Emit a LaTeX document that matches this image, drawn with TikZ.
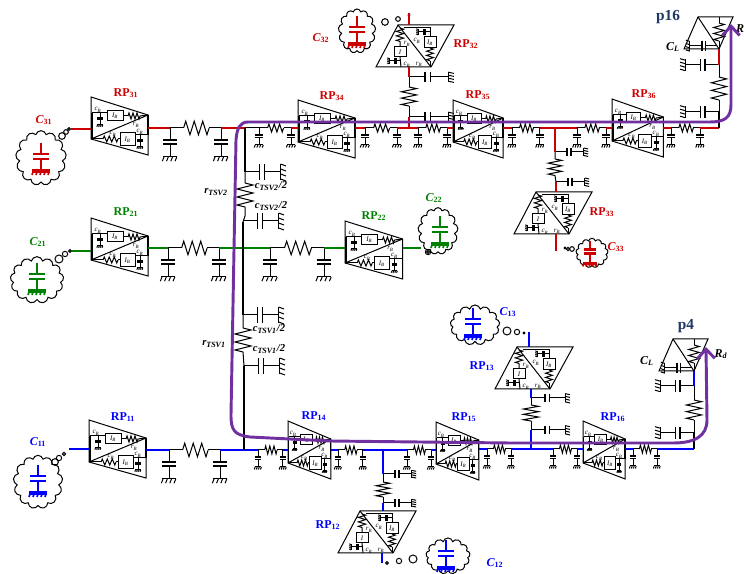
\documentclass[tikz,border=0pt]{standalone}
\usepackage{fontspec}
\setmainfont{Liberation Serif}
\usetikzlibrary{arrows.meta,shapes.symbols}
\definecolor{rpred}{HTML}{CC0000}
\definecolor{rpgreen}{HTML}{008000}
\definecolor{rpblue}{HTML}{0000FF}
\definecolor{rpnavy}{HTML}{1F3864}
\definecolor{rppurple}{HTML}{7030A0}
\newcommand{\sbs}[2]{\textit{#1}\textsubscript{\textit{#2}}}
\newcommand{\sbu}[2]{#1\textsubscript{\upshape #2}}
\tikzset{
	rw/.style={draw=rpred,line width=1.8pt},
	gw/.style={draw=rpgreen,line width=1.8pt},
	bw/.style={draw=rpblue,line width=1.8pt},
	kw/.style={line width=1.8pt},
	smalltxt/.style={font=\itshape\fontsize{5.2}{5.5}\selectfont,inner sep=0pt},
	rplab/.style={font=\bfseries\fontsize{9}{10}\selectfont,inner sep=0pt},
	loadlab/.style={font=\bfseries\itshape\fontsize{9}{10}\selectfont,inner sep=0pt},
	tsvlab/.style={font=\bfseries\itshape\fontsize{8}{9}\selectfont,inner sep=0pt},
	outlab/.style={font=\bfseries\fontsize{11.5}{12}\selectfont,text=rpnavy,inner sep=0pt},
	cloudn/.style={cloud,cloud puffs=13,draw=black,inner sep=0pt,cloud ignores aspect},
	bubble/.style={circle,draw=black,inner sep=0pt,minimum size=#1},
	pathw/.style={draw=rppurple,line width=2.2pt,{Straight Barb[length=7pt,width=13pt]}-{Straight Barb[length=7pt,width=13pt]}},
	pics/resh/.style={code={
		\coordinate (-a) at (0,0);
		\coordinate (-b) at (15,0);
		\draw (-a) -- (1.25,-4) -- (3.75,4) -- (6.25,-4) -- (8.75,4) -- (11.25,-4) -- (13.75,4) -- (-b);
	}},
	pics/shcap/.style={code={
		\coordinate (-t) at (0,0);
		\draw (-t) -- (0,7) (0,9.4) -- (0,17) (-4,17) -- (4,17);
		\draw[line width=1pt] (-4,7) -- (4,7) (-4,9.4) -- (4,9.4);
		\draw (-3.5,17) -- (-4.5,19.5) (-1,17) -- (-2,19.5) (1.5,17) -- (.5,19.5) (4,17) -- (3,19.5);
	}},
	pics/pisec/.style={code={
		\coordinate (-a) at (0,0);
		\coordinate (-b) at (30,0);
		\pic[transform shape] (-ca) at (-a) {shcap};
		\pic[transform shape] (-cb) at (-b) {shcap};
		\pic[transform shape] (-r) at (8,0) {resh};
		\draw (-a) -- (-r-a) (-r-b) -- (-b);
	}},
	pics/loadcap/.style={code={
		\draw[line width=2pt] (0,-14) -- (0,-3) (-8,-3) -- (8,-3) (-8,2) -- (8,2) (0,2) -- (0,13);
		\draw[line width=2.4pt] (-9,14) -- (9,14);
		\draw[line width=1.3pt] (-8,15) -- (-9,18) (-4,15) -- (-5,18) (0,15) -- (-1,18) (4,15) -- (3,18) (8,15) -- (7,18);
	}},
	pics/rph/.style={code={
		\coordinate (-in) at (0,29);
		\coordinate (-out) at (57,29);
		\draw (0,0) -- (57,18) -- (57,58) -- (0,42) -- cycle;
		\draw (0,42) -- (57,18);
		\draw[line width=1.1pt] (1,16) -- (1,42) (57,18) -- (57,38);
		\draw (1,16) -- (16,16) (32,19) -- (37,19);
		\draw (16,14) rectangle (32,24);
		\pic[transform shape,scale=.7] (-c1) at (9,16) {shcap};
		\pic[transform shape,xscale=.8,yscale=.75] (-r1) at (37,19) {resh};
		\draw (49,19) -- (57,18);
		\draw (1,42) -- (12,42) (27,42) -- (29,42) (44,38) -- (57,38);
		\pic[transform shape,yscale=.75] (-r2) at (12,42) {resh};
		\draw (29,36) rectangle (44,49);
		\pic[transform shape,scale=.7] (-c2) at (49,38) {shcap};
		\draw (7,13) node (-cb1) [smalltxt] {\sbs{c}{B}};
		\draw (24,19) node (-ib1) [smalltxt] {\sbs{I}{B}};
		\draw (45,28) node (-rb1) [smalltxt] {\sbs{r}{B}};
		\draw (22,37) node (-cb2) [smalltxt] {\sbs{c}{B}};
		\draw (36.5,43) node (-ib2) [smalltxt] {\sbs{I}{B}};
		\draw (49,35) node (-cb3) [smalltxt] {\sbs{c}{B}};
	}},
	pics/rpv/.style={code={
		\coordinate (-top) at (0,0);
		\coordinate (-bot) at (0,42);
		\draw (0,0) -- (56,0) -- (33,42) -- (-22,42) -- cycle;
		\draw (0,0) -- (33,42);
		\pic[transform shape,rotate=-90,xscale=.9,yscale=.9] (-r1) at (2,3) {resh};
		\draw (2,16.5) -- (2,22) (2,32) -- (3,42);
		\draw (-4,22) rectangle (8,32);
		\pic[transform shape,rotate=-90,scale=.7] (-c1) at (3,36) {shcap};
		\draw (6,3) -- (32,3) -- (32,12);
		\pic[transform shape,rotate=-90,scale=.7] (-c2) at (32,7) {shcap};
		\draw (26,12) rectangle (38,23);
		\pic[transform shape,rotate=-90,scale=.85] (-r2) at (32,23) {resh};
		\draw (32,35.8) -- (32,42);
		\draw (9,19) node (-rb1) [smalltxt] {\sbs{r}{B}};
		\draw (19,16) node (-cb1) [smalltxt] {\sbs{c}{B}};
		\draw (32,18) node (-ib1) [smalltxt] {\sbs{I}{B}};
		\draw (2,27) node (-ib2) [smalltxt] {\textit{I}};
		\draw (9,40) node (-cb2) [smalltxt] {\sbs{c}{B}};
		\draw (21,39.5) node (-rb2) [smalltxt] {\sbs{r}{B}};
	}},
	pics/outp/.style={code={
		\coordinate (-o) at (21,32);
		\draw (0,0) -- (35,0) -- (21,32) -- (-14,32) -- cycle;
		\draw (0,0) -- (-o);
		\draw (21,0) -- (21,6);
		\pic[transform shape,rotate=-90,xscale=1.2,yscale=1.33] (-r) at (21,6) {resh};
		\draw (21,24) -- (-o);
		\pic[transform shape,rotate=-90,xscale=1.3,yscale=1.6] (-c) at (19,29) {shcap};
	}},
}

\begin{document}
\begin{tikzpicture}[x=0.75pt,y=-0.75pt,line width=.75pt]

	\useasboundingbox (0,0) rectangle (744,574);

	\coordinate (tsv3) at (245,128);
	\coordinate (tsv3b) at (245,172);
	\coordinate (tsv2) at (243,222);
	\coordinate (tsv2b) at (243,315);
	\coordinate (tsv1b) at (244,366);
	\coordinate (tsv1) at (244,450);
	\coordinate (j32) at (409,128);
	\coordinate (j33) at (555,128);
	\coordinate (j16) at (719,128);
	\coordinate (j12) at (383,450);
	\coordinate (j13) at (531,449);
	\coordinate (j4) at (694,449);
	\coordinate (tip16) at (731,24);
	\coordinate (tip4) at (706,347);

	\draw (41,158) node (cl31) [cloudn,minimum width=38pt,minimum height=41pt] {};
	\draw (37,280) node (cl21) [cloudn,minimum width=40pt,minimum height=35pt] {};
	\draw (38,482) node (cl11) [cloudn,minimum width=37pt,minimum height=40pt] {};
	\draw (357,31) node (cl32) [cloudn,minimum width=28pt,minimum height=33pt] {};
	\draw (592,253) node (cl33) [cloudn,minimum width=24pt,minimum height=22pt] {};
	\draw (438,231) node (cl22) [cloudn,minimum width=30pt,minimum height=35pt] {};
	\draw (475,325) node (cl13) [cloudn,minimum width=37pt,minimum height=30pt] {};
	\draw (448,556) node (cl12) [cloudn,minimum width=33pt,minimum height=27pt] {};

	\pic[rpred] (lc31) at (41,157) {loadcap};
	\pic[rpgreen] (lc21) at (37,277) {loadcap};
	\pic[rpblue] (lc11) at (38,479) {loadcap};
	\pic[rpred] (lc32) at (357,30) {loadcap};
	\pic[rpred,scale=.8] (lc33) at (590,252) {loadcap};
	\pic[rpgreen] (lc22) at (440,230) {loadcap};
	\pic[rpblue] (lc13) at (473,322) {loadcap};
	\pic[rpblue] (lc12) at (446,554) {loadcap};

	\draw (62,136) node (b31a) [bubble=5pt] {};
	\draw (66,132) node (b31b) [bubble=3.5pt] {};
	\draw (69,129) node (b31c) [bubble=2pt] {};
	\draw (59,259) node (b21a) [bubble=6pt] {};
	\draw (65,254) node (b21b) [bubble=4pt] {};
	\draw (70,251) node (b21c) [bubble=2pt] {};
	\draw (55,462) node (b11a) [bubble=5pt] {};
	\draw (59,458) node (b11b) [bubble=4pt] {};
	\draw (64,454) node (b11c) [bubble=2.5pt] {};
	\draw (385,22) node (b32a) [bubble=5pt] {};
	\draw (398,19) node (b32b) [bubble=3.5pt] {};
	\draw (409,15) node (b32c) [bubble=1.5pt] {};
	\draw (565,248) node (b33a) [bubble=1.5pt] {};
	\draw (568,249) node (b33b) [bubble=2.5pt] {};
	\draw (572,249) node (b33c) [bubble=3.5pt] {};
	\draw (428,252) node (b22a) [bubble=4pt] {};
	\draw (428,252) node (b22b) [bubble=2pt] {};
	\draw (507,331) node (b13a) [bubble=6pt] {};
	\draw (517,332) node (b13b) [bubble=4pt] {};
	\draw (524,333) node (b13c) [bubble=1.5pt] {};
	\draw (387,563) node (b12a) [bubble=2pt] {};
	\draw (399,561) node (b12b) [bubble=4pt] {};
	\draw (413,559) node (b12c) [bubble=6pt] {};

	\pic (rp31) at (91,97) {rph};
	\pic (rp21) at (91,218) {rph};
	\pic (rp11) at (89,420) {rph};
	\pic[xscale=1.01] (rp22) at (345,221) {rph};
	\pic (rp34) at (298,100) {rph};
	\pic[xscale=.88] (rp35) at (453,100) {rph};
	\pic[xscale=.9] (rp36) at (612,99) {rph};
	\pic[xscale=.75] (rp14) at (288,421) {rph};
	\pic[xscale=.75] (rp15) at (436,422) {rph};
	\pic[xscale=.74] (rp16) at (583,421) {rph};
	\pic (rp32) at (398,25) {rpv};
	\pic (rp33) at (536,192) {rpv};
	\pic (rp13) at (517,347) {rpv};
	\pic (rp12) at (360,511) {rpv};
	\pic (p16) at (698,17) {outp};
	\pic (p4) at (673,339) {outp};

	\pic[scale=1.7] (pi31) at (170,128) {pisec};
	\pic[xscale=1.07] (pi34a) at (259,128) {pisec};
	\pic[xscale=1.07] (pi34b) at (365,128) {pisec};
	\pic[xscale=.97] (pi35a) at (418,128) {pisec};
	\pic[xscale=.93] (pi35b) at (512,128) {pisec};
	\pic[xscale=.97] (pi36a) at (577,128) {pisec};
	\pic[xscale=.97] (pi36b) at (671,128) {pisec};
	\pic[scale=1.7] (pi21) at (168,248) {pisec};
	\pic[xscale=1.8,yscale=1.7] (pi22) at (270,248) {pisec};
	\pic[scale=1.7] (pi11) at (169,450) {pisec};
	\pic[xscale=.83] (pi14a) at (258,450) {pisec};
	\pic[xscale=.83] (pi14b) at (338,450) {pisec};
	\pic[xscale=.8] (pi15a) at (407,450) {pisec};
	\pic[xscale=.8] (pi15b) at (487,449) {pisec};
	\pic[xscale=.8] (pi16a) at (553,449) {pisec};
	\pic[xscale=.8] (pi16b) at (633,449) {pisec};

	\draw[rw] (b31c) -- (b31c -| rp31-in);
	\draw[rw] (pi31-a -| rp31-out) -- (pi31-a);
	\draw[rw] (pi31-b) -- (tsv3);
	\draw (tsv3) -- (pi34a-a);
	\draw[rw] (pi34a-b) -- (pi34a-b -| rp34-in);
	\draw[rw] (pi34b-a -| rp34-out) -- (pi34b-a);
	\draw[rw] (pi34b-b) -- (j32) -- (pi35a-a);
	\draw[rw] (pi35a-b) -- (pi35a-b -| rp35-in);
	\draw[rw] (pi35b-a -| rp35-out) -- (pi35b-a);
	\draw[rw] (pi35b-b) -- (j33) -- (pi36a-a);
	\draw[rw] (pi36a-b) -- (pi36a-b -| rp36-in);
	\draw[rw] (pi36b-a -| rp36-out) -- (pi36b-a);
	\draw[rw] (pi36b-b) -- (j16);

	\coordinate (c22w) at (421,248);
	\draw[gw] (b21c) -- (b21c -| rp21-in);
	\draw[gw] (pi21-a -| rp21-out) -- (pi21-a);
	\draw[gw] (pi21-b) -- (pi22-a);
	\draw[gw] (pi22-b) -- (pi22-b -| rp22-in);
	\draw[gw] (pi22-b -| rp22-out) -- (c22w);

	\coordinate (c11w) at (69,449);
	\draw[bw] (c11w) -- (c11w -| rp11-in);
	\draw[bw] (pi11-a -| rp11-out) -- (pi11-a);
	\draw[bw] (pi11-b) -- (pi14a-a);
	\draw[bw] (pi14a-b) -- (pi14a-b -| rp14-in);
	\draw[bw] (pi14b-a -| rp14-out) -- (pi14b-a);
	\draw[bw] (pi14b-b) -- (j12) -- (pi15a-a);
	\draw[bw] (pi15a-b) -- (pi15a-b -| rp15-in);
	\draw[bw] (pi15b-a -| rp15-out) -- (pi15b-a);
	\draw[bw] (pi15b-b) -- (j13) -- (pi16a-a);
	\draw[bw] (pi16a-b) -- (pi16a-b -| rp16-in);
	\draw[bw] (pi16b-a -| rp16-out) -- (pi16b-a);
	\draw[bw] (pi16b-b) -- (j4);

	\pic[rotate=-90,xscale=1.6,yscale=2] (rt2) at (245,183) {resh};
	\pic[rotate=-90,xscale=1.6,yscale=2] (rt1) at (243,328) {resh};
	\pic[rotate=90,xscale=2,yscale=2.1] (ct2a) at (tsv3b) {shcap};
	\pic[rotate=90,xscale=2,yscale=2.1] (ct2b) at (243,221) {shcap};
	\pic[rotate=90,xscale=2,yscale=2.1] (ct1a) at (tsv2b) {shcap};
	\pic[rotate=90,xscale=2,yscale=2.1] (ct1b) at (tsv1b) {shcap};
	\draw[kw] (tsv3) -- (tsv3b);
	\draw (tsv3b) -- (rt2-a) (rt2-b) -- (245,216) -- (tsv2);
	\draw[kw] (tsv2) -- (tsv2b);
	\draw (tsv2b) -- (rt1-a) (rt1-b) -- (tsv1b);
	\draw[kw] (tsv1b) -- (tsv1);

	\coordinate (n32a) at (409,117);
	\coordinate (n32b) at (409,77);
	\pic[rotate=90,xscale=1.2,yscale=2.3] (c32a) at (n32a) {shcap};
	\pic[rotate=90,xscale=1.2,yscale=2.3] (c32b) at (n32b) {shcap};
	\pic[rotate=-90,xscale=1.27,yscale=1.9] (r32) at (409,87) {resh};
	\draw[rw] (j32) -- (n32a);
	\draw (n32a) -- (r32-b) (r32-a) -- (n32b);
	\draw[rw] (n32b) -- (n32b |- rp32-bot);
	\coordinate (n32c) at (409,13);
	\draw[rw] (n32c) -- (n32c |- rp32-top);

	\coordinate (n33a) at (555,152);
	\coordinate (n33b) at (556,182);
	\pic[rotate=90,xscale=1,yscale=1.7] (c33a) at (n33a) {shcap};
	\pic[rotate=90,xscale=1,yscale=1.7] (c33b) at (n33b) {shcap};
	\pic[rotate=-90,xscale=1.1,yscale=1.7] (r33) at (555,159) {resh};
	\draw[rw] (j33) -- (n33a);
	\draw (n33a) -- (r33-a) (r33-b) -- (n33b);
	\draw[rw] (n33b) -- (n33b |- rp33-top);
	\coordinate (n33c) at (556,251);
	\draw[rw] (n33c |- rp33-bot) -- (n33c);

	\coordinate (n13a) at (531,430);
	\coordinate (n13b) at (531,398);
	\pic[rotate=90,xscale=1.1,yscale=2] (c13a) at (n13a) {shcap};
	\pic[rotate=90,xscale=1.1,yscale=2] (c13b) at (n13b) {shcap};
	\pic[rotate=-90,xscale=1.07,yscale=1.9] (r13) at (531,405) {resh};
	\draw[bw] (j13) -- (n13a);
	\draw (n13a) -- (r13-b) (r13-a) -- (n13b);
	\draw[bw] (n13b) -- (n13b |- rp13-bot);
	\coordinate (n13c) at (529,332);
	\draw[bw] (n13c) -- (n13c |- rp13-top);

	\coordinate (n12a) at (383,474);
	\coordinate (n12b) at (383,503);
	\pic[rotate=90,xscale=.9,yscale=1.7] (c12a) at (n12a) {shcap};
	\pic[rotate=90,xscale=.9,yscale=1.7] (c12b) at (n12b) {shcap};
	\pic[rotate=-90,xscale=1,yscale=1.7] (r12) at (383,482) {resh};
	\draw[bw] (j12) -- (n12a);
	\draw (n12a) -- (r12-a) (r12-b) -- (n12b);
	\draw[bw] (n12b) -- (n12b |- rp12-top);
	\coordinate (n12c) at (382,563);
	\draw[bw] (n12c |- rp12-bot) -- (n12c);

	\coordinate (n16a) at (719,112);
	\coordinate (n16b) at (719,65);
	\pic[rotate=-90,xscale=1.4,yscale=2] (c16a) at (n16a) {shcap};
	\pic[rotate=-90,xscale=1.4,yscale=2] (c16b) at (n16b) {shcap};
	\pic[rotate=-90,xscale=1.53,yscale=1.9] (r16) at (719,77) {resh};
	\draw[kw] (j16) -- (n16a);
	\draw (n16a) -- (r16-b) (r16-a) -- (n16b);
	\draw[rw] (n16b) -- (p16-o);

	\coordinate (n4a) at (694,433);
	\coordinate (n4b) at (694,386);
	\pic[rotate=-90,xscale=1.4,yscale=2] (c4a) at (n4a) {shcap};
	\pic[rotate=-90,xscale=1.4,yscale=2] (c4b) at (n4b) {shcap};
	\pic[rotate=-90,xscale=1.33,yscale=1.9] (r4) at (694,400) {resh};
	\draw[kw] (j4) -- (n4a);
	\draw (n4a) -- (r4-b) (r4-a) -- (n4b);
	\draw[bw] (n4b) -- (p4-o);

	\draw (126,93) node (l31) [rplab,text=rpred] {\sbu{RP}{31}};
	\draw (321,38) node (l32c) [loadlab,text=rpred] {\sbu{C}{32}};
	\draw (466,44) node (l32) [rplab,text=rpred] {\sbu{RP}{32}};
	\draw (602,212) node (l33) [rplab,text=rpred] {\sbu{RP}{33}};
	\draw (332,96) node (l34) [rplab,text=rpred] {\sbu{RP}{34}};
	\draw (478,95) node (l35) [rplab,text=rpred] {\sbu{RP}{35}};
	\draw (644,94) node (l36) [rplab,text=rpred] {\sbu{RP}{36}};
	\draw (44,120) node (l31c) [loadlab,text=rpred] {\sbu{C}{31}};
	\draw (616,247) node (l33c) [loadlab,text=rpred] {\sbu{C}{33}};
	\draw (126,212) node (l21) [rplab,text=rpgreen] {\sbu{RP}{21}};
	\draw (374,216) node (l22) [rplab,text=rpgreen] {\sbu{RP}{22}};
	\draw (38,242) node (l21c) [loadlab,text=rpgreen] {\sbu{C}{21}};
	\draw (434,198) node (l22c) [loadlab,text=rpgreen] {\sbu{C}{22}};
	\draw (123,417) node (l11) [rplab,text=rpblue] {\sbu{RP}{11}};
	\draw (314,416) node (l14) [rplab,text=rpblue] {\sbu{RP}{14}};
	\draw (464,417) node (l15) [rplab,text=rpblue] {\sbu{RP}{15}};
	\draw (613,417) node (l16) [rplab,text=rpblue] {\sbu{RP}{16}};
	\draw (482,366) node (l13) [rplab,text=rpblue] {\sbu{RP}{13}};
	\draw (328,525) node (l12) [rplab,text=rpblue] {\sbu{RP}{12}};
	\draw (38,442) node (l11c) [loadlab,text=rpblue] {\sbu{C}{11}};
	\draw (508,312) node (l13c) [loadlab,text=rpblue] {\sbu{C}{13}};
	\draw (495,563) node (l12c) [loadlab,text=rpblue] {\sbu{C}{12}};
	\draw (216,192) node (lr2) [tsvlab] {\sbs{r}{TSV2}};
	\draw (214,344) node (lr1) [tsvlab] {\sbs{r}{TSV1}};
	\draw (271,186) node (lc2a) [tsvlab] {\sbs{c}{TSV2}/2};
	\draw (271,206) node (lc2b) [tsvlab] {\sbs{c}{TSV2}/2};
	\draw (269,329) node (lc1a) [tsvlab] {\sbs{c}{TSV1}/2};
	\draw (269,349) node (lc1b) [tsvlab] {\sbs{c}{TSV1}/2};
	\draw (668,17) node (lp16) [outlab] {p16};
	\draw (686,326) node (lp4) [outlab] {p4};
	\draw (673,47) node (lcl16) [loadlab] {\sbs{C}{L}};
	\draw (647,361) node (lcl4) [loadlab] {\sbs{C}{L}};
	\draw (721,354) node (lrd4) [loadlab] {\sbs{R}{d}};
	\draw (740,29) node (lrd16) [loadlab] {\textit{R}};

	\draw[pathw] (tip16) -- (731,105) .. controls (731,118) and (724,122) .. (710,122) -- (248,122) .. controls (240,122) and (237,128) .. (236,140) -- (231,415) .. controls (231,430) and (234,435) .. (250,437) -- (330,441) -- (510,443) -- (673,443) .. controls (695,443) and (707,436) .. (707,420) -- (tip4);

\end{tikzpicture}
\end{document}
